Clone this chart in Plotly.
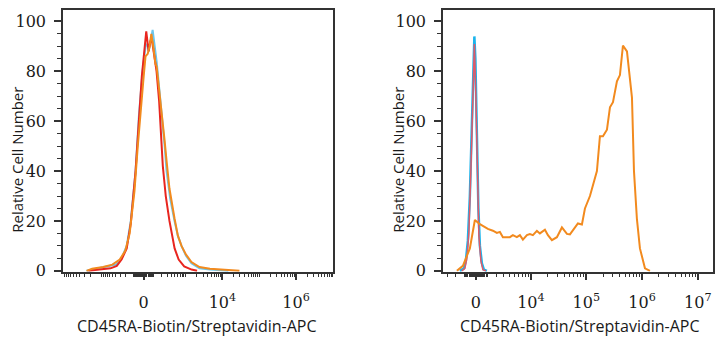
import numpy as np
import plotly.graph_objects as go

# ---------------- data (x in display decades of the biexponential axis) ----------------
# Left panel
left_red_x = [-1.5, -1.2, -0.9, -0.73, -0.6, -0.46, -0.35, -0.22, -0.135, -0.05, 0.03, 0.07, 0.11, 0.135,
              0.18, 0.22, 0.27, 0.35, 0.42, 0.48, 0.52, 0.6, 0.7, 0.84, 0.95, 1.1, 1.3, 1.45]
left_red_y = [0, 0.5, 1, 2, 4.5, 9, 19, 40, 60, 78, 90, 96, 91, 88,
              92, 93, 88, 80, 68, 55, 42, 30, 20, 9, 4.5, 1.8, 0.5, 0]

left_blue_x = [-1.55, -1.3, -1.0, -0.75, -0.6, -0.46, -0.35, -0.22, -0.13, -0.03, 0.05, 0.1, 0.135, 0.2,
               0.243, 0.3, 0.351, 0.43, 0.514, 0.57, 0.622, 0.72, 0.838, 0.93, 1.027, 1.15, 1.297, 1.514,
               1.8, 2.1, 2.3]
left_blue_y = [0, 0.8, 1.5, 2.5, 5, 10, 20, 40, 62, 80, 90, 91, 88, 93,
               96.6, 90, 84, 72, 60, 50, 40, 29, 20, 14, 10, 6, 3, 1,
               0.5, 0.2, 0]

left_orange_x = [-1.55, -1.4, -1.1, -0.85, -0.65, -0.5, -0.38, -0.25, -0.16, -0.08, 0.0, 0.05, 0.11, 0.16,
                 0.208, 0.26, 0.32, 0.351, 0.41, 0.46, 0.514, 0.57, 0.622, 0.7, 0.838, 0.93, 1.027, 1.15,
                 1.297, 1.514, 1.8, 2.1, 2.4, 2.6]
left_orange_y = [0, 0.8, 1.5, 2.5, 4.5, 8, 15, 32, 50, 66, 78, 86, 87, 90,
                 95, 90, 83, 82, 74, 68, 62, 52, 44, 33, 21, 14, 10, 6.5,
                 3.5, 1.5, 0.8, 0.5, 0.2, 0]

# Right panel
right_blue_x = [-0.287, -0.215, -0.18, -0.144, -0.108, -0.072, -0.045, -0.027, -0.009, 0.018, 0.045,
                0.072, 0.108, 0.144, 0.197]
right_blue_y = [0, 1, 4, 12, 30, 60, 85, 94, 85, 55, 25, 10, 3, 0.5, 0]

right_red_x = [-0.251, -0.197, -0.162, -0.126, -0.09, -0.054, -0.027, 0.0, 0.027, 0.054, 0.09, 0.126, 0.18]
right_red_y = [0, 1, 5, 15, 40, 75, 91, 70, 38, 14, 4, 0.5, 0]

right_orange_x = [-0.341, -0.233, -0.108, -0.018, 0.072, 0.215, 0.305, 0.377, 0.431, 0.485, 0.61, 0.664,
                  0.736, 0.79, 0.844, 0.916, 0.969, 1.023, 1.095, 1.149, 1.239, 1.293, 1.364, 1.454, 1.544,
                  1.634, 1.688, 1.741, 1.831, 1.903, 1.957, 2.047, 2.101, 2.172, 2.226, 2.28, 2.352, 2.406,
                  2.46, 2.531, 2.585, 2.639, 2.711, 2.729, 2.801, 2.837, 2.89, 2.944, 3.034, 3.124]
right_orange_y = [0, 2, 9, 20.4, 18.7, 16.8, 16.1, 15.2, 15.6, 13.5, 13.5, 14.3,
                  13.5, 14.3, 12.5, 14.3, 14.7, 14.3, 16, 15, 16.5, 14.3, 12.3, 13.5, 17.4,
                  14.8, 14.6, 16.2, 19, 18.6, 25, 30, 34, 40, 54, 54, 56.6, 65.6,
                  67.6, 76, 78.5, 90.3, 88, 84.5, 69.5, 40, 20.7, 9, 1, 0]

# Axis tick definitions (fluorescence values)
left_major_vals = [0, 1e4, 1e6]
left_major_text = ["0", "10<sup>4</sup>", "10<sup>6</sup>"]
right_major_vals = [0, 1e4, 1e5, 1e6, 1e7]
right_major_text = ["0", "10<sup>4</sup>", "10<sup>5</sup>", "10<sup>6</sup>", "10<sup>7</sup>"]
y_tick_vals = [0, 20, 40, 60, 80, 100]

X_TITLE = "CD45RA-Biotin/Streptavidin-APC"
Y_TITLE = "Relative Cell Number"

# biexponential (asinh) axis widths
C_LEFT = 146.0
C_RIGHT = 2083.0


def biex(v, c):
    return (np.arcsinh(np.asarray(v, dtype=float) / c) / np.log(10)).tolist()


mults = [1, 2, 3, 4, 5, 6, 7, 8, 9]
near_zero = [s * m * d for s in (-1, 1) for d in (10, 100) for m in mults]
left_minor = ([-m * 1e3 for m in mults] + [-1e4] + near_zero
              + [m * d for d in (1e3, 1e4, 1e5, 1e6) for m in mults if m * d not in (1e4, 1e6)] + [1e7])
right_minor = ([-1e3, -2e3, -3e3] + near_zero
               + [m * d for d in (1e3, 1e4, 1e5, 1e6) for m in mults if m * d not in (1e4, 1e5, 1e6)])

W, H = 723, 350
AX = "#333333"
tick_font = dict(family="DejaVu Serif, Liberation Serif, serif", size=16, color="#1a1a1a")
title_font = dict(family="Open Sans", size=15, color="#1a1a1a")
xtitle_font = dict(family="Open Sans", size=16, color="#1a1a1a")

fig = go.Figure()
lw = 2
fig.add_trace(go.Scatter(x=left_blue_x, y=left_blue_y, mode="lines", line=dict(color="#6cc6ec", width=lw),
                         xaxis="x", yaxis="y", showlegend=False))
fig.add_trace(go.Scatter(x=left_red_x, y=left_red_y, mode="lines", line=dict(color="#e8251f", width=lw),
                         xaxis="x", yaxis="y", showlegend=False))
fig.add_trace(go.Scatter(x=left_orange_x, y=left_orange_y, mode="lines", line=dict(color="#f28a1e", width=lw),
                         xaxis="x", yaxis="y", showlegend=False))
fig.add_trace(go.Scatter(x=right_blue_x, y=right_blue_y, mode="lines", line=dict(color="#1ab4ec", width=2.5),
                         xaxis="x2", yaxis="y2", showlegend=False))
fig.add_trace(go.Scatter(x=right_red_x, y=right_red_y, mode="lines", line=dict(color="#e05a68", width=1.5),
                         xaxis="x2", yaxis="y2", showlegend=False))
fig.add_trace(go.Scatter(x=right_orange_x, y=right_orange_y, mode="lines", line=dict(color="#f28a1e", width=lw),
                         xaxis="x2", yaxis="y2", showlegend=False))

common_x = dict(ticks="outside", ticklen=6, tickwidth=1.5, tickcolor=AX, showline=True, mirror=True,
                linecolor=AX, linewidth=1.5, showgrid=False, zeroline=False, tickfont=tick_font,
                tickmode="array", ticklabelstandoff=9)
common_y = dict(ticks="outside", ticklen=7, tickwidth=2, tickcolor=AX, showline=True, mirror=True,
                linecolor=AX, linewidth=1.5, showgrid=False, zeroline=False, tickfont=tick_font,
                tickmode="array", tickvals=y_tick_vals, ticktext=[str(v) for v in y_tick_vals],
                range=[-0.4, 104.7], ticklabelstandoff=5,
                minor=dict(dtick=5, ticks="outside", ticklen=4, tickwidth=1.2, tickcolor=AX, showgrid=False))

minor_x = dict(tickmode="array", ticks="outside", ticklen=3, tickwidth=1.2, tickcolor=AX, showgrid=False)

ydom = [(H - 279) / H, (H - 10) / H]
fig.update_layout(
    width=W, height=H, margin=dict(l=0, r=0, t=0, b=0),
    paper_bgcolor="white", plot_bgcolor="white",
    xaxis=dict(domain=[63 / W, 333 / W], anchor="y", range=[-2.19, 5.14],
               tickvals=biex(left_major_vals, C_LEFT), ticktext=left_major_text,
               minor=dict(tickvals=biex(left_minor, C_LEFT), **minor_x),
               **common_x),
    yaxis=dict(domain=ydom, anchor="x", **common_y),
    xaxis2=dict(domain=[443 / W, 713 / W], anchor="y2", range=[-0.59, 4.255],
                tickvals=biex(right_major_vals, C_RIGHT), ticktext=right_major_text,
                minor=dict(tickvals=biex(right_minor, C_RIGHT), **minor_x),
                **common_x),
    yaxis2=dict(domain=ydom, anchor="x2", **common_y),
)

for xc, yc, txt, ang, fnt in [(17, 164, Y_TITLE, -90, title_font), (398, 164, Y_TITLE, -90, title_font),
                              (197, 335, X_TITLE, 0, xtitle_font), (580, 335, X_TITLE, 0, xtitle_font)]:
    fig.add_annotation(x=xc / W, y=(H - yc) / H, xref="paper", yref="paper", text=txt, textangle=ang,
                       showarrow=False, font=fnt, xanchor="center", yanchor="middle")

fig.write_html("out.html")
